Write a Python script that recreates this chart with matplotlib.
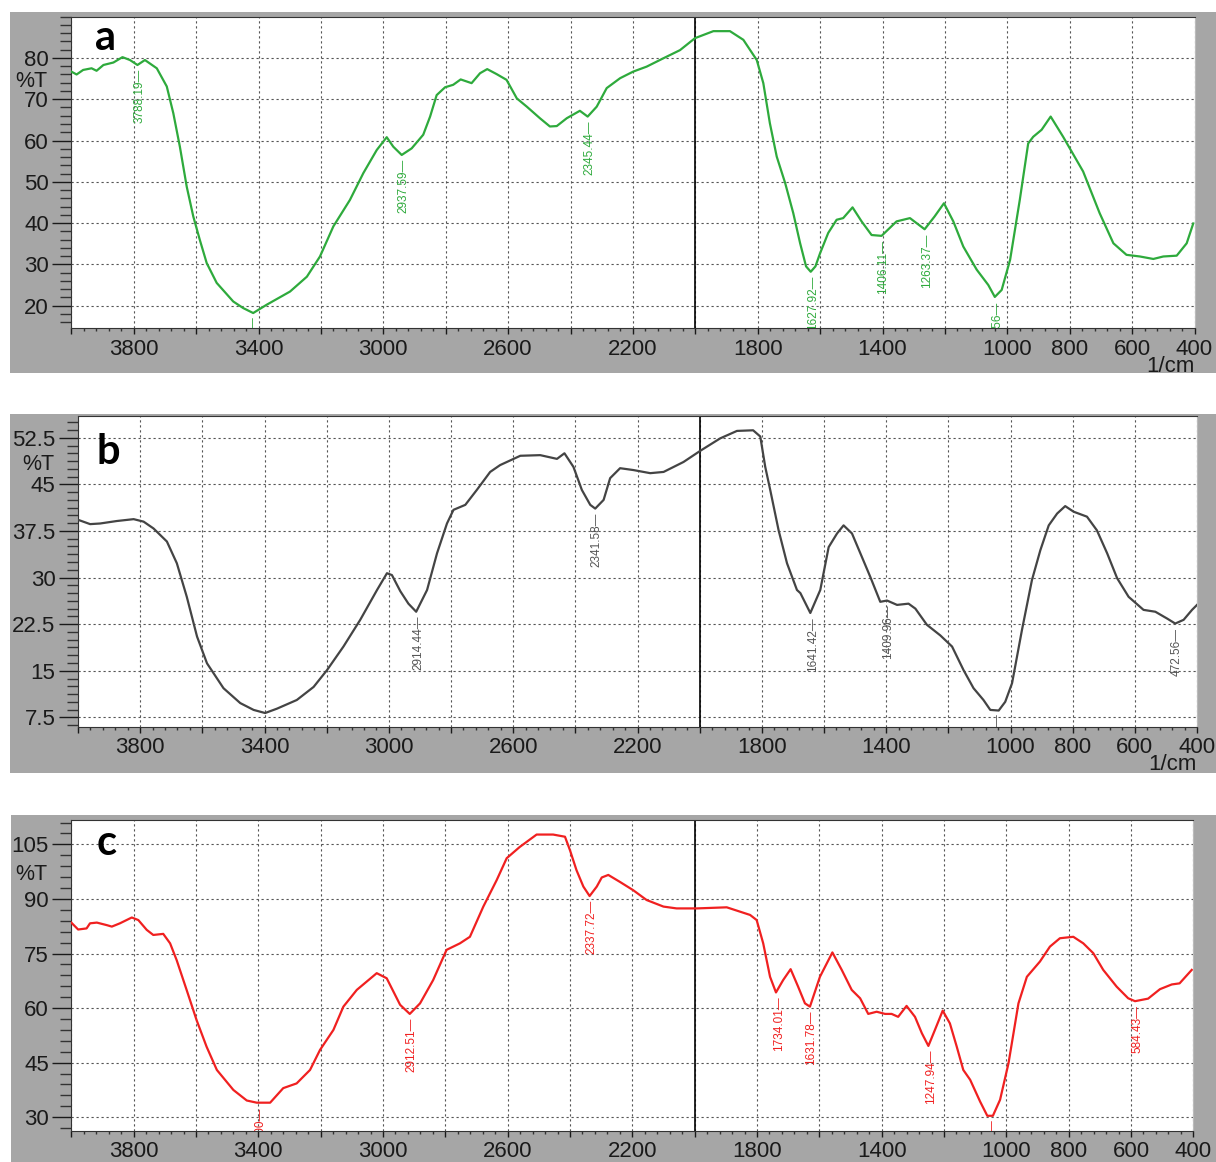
## FTIR spectra a, b, c (Shimadzu style plots)
import matplotlib
matplotlib.use('Agg')
import matplotlib.pyplot as plt
from matplotlib.patches import Rectangle
from matplotlib.ticker import MultipleLocator
from matplotlib.transforms import offset_copy

plt.rcParams['font.family'] = ['Liberation Sans', 'DejaVu Sans']

# spectrum a (green)
wn_a = [4000, 3983, 3962, 3935, 3919, 3897, 3865, 3836, 3812, 3788, 3764, 3726, 3694, 3673, 3652,
        3630, 3609, 3588, 3566, 3534, 3481, 3449, 3417, 3374, 3299, 3245, 3203, 3160, 3107, 3064,
        3021, 2989, 2968, 2941, 2909, 2872, 2850, 2829, 2802, 2776, 2752, 2717, 2690, 2667, 2637,
        2605, 2572, 2540, 2498, 2466, 2444, 2412, 2370, 2345, 2316, 2284, 2241, 2199, 2156, 2103,
        2049, 2001, 1942, 1889, 1846, 1803, 1782, 1761, 1739, 1712, 1686, 1664, 1645, 1630, 1615,
        1600, 1574, 1547, 1526, 1496, 1467, 1435, 1403, 1355, 1312, 1265, 1233, 1203, 1173, 1141,
        1098, 1061, 1040, 1018, 991, 960, 933, 917, 890, 861, 821, 757, 704, 660, 618,
        575, 532, 500, 457, 425, 404]
t_a = [76.7, 76.0, 77.1, 77.5, 76.9, 78.3, 78.9, 80.2, 79.5, 78.3, 79.5, 77.5, 73.1, 66.6, 58.5,
       48.8, 41.6, 35.9, 30.3, 25.5, 21.0, 19.4, 18.2, 20.2, 23.4, 27.0, 31.9, 39.2, 45.6, 52.1,
       57.7, 60.8, 58.5, 56.5, 58.1, 61.4, 65.8, 71.0, 72.9, 73.5, 74.8, 73.9, 76.3, 77.3, 76.1,
       74.7, 70.2, 68.2, 65.4, 63.4, 63.5, 65.4, 67.2, 65.8, 68.2, 72.7, 75.1, 76.7, 77.9, 79.9,
       81.9, 84.8, 86.5, 86.5, 84.4, 79.5, 73.9, 64.2, 56.1, 49.7, 42.4, 35.1, 29.5, 28.2, 29.5,
       32.7, 37.6, 40.8, 41.2, 43.8, 40.4, 37.1, 36.9, 40.4, 41.2, 38.5, 41.6, 44.8, 40.4, 34.3,
       28.7, 25.0, 22.1, 23.8, 31.1, 45.6, 59.3, 60.9, 62.6, 65.8, 60.9, 52.5, 42.4, 35.1, 32.3,
       31.9, 31.3, 31.9, 32.1, 35.1, 39.9]
# peak labels (the ones running off the bottom are cut as in the original print)
pk_wn_a = [3788, 3420, 2941, 2345, 1628, 1406, 1264, 1040]
pk_t_a = [78.3, 18.2, 56.5, 65.8, 28.3, 36.9, 38.5, 22.1]
pk_txt_a = ['3788.19', '', '2937.59', '2345.44', '1627.92', '1406.11', '1263.37', '.56']

# spectrum b (grey)
wn_b = [4000, 3961, 3929, 3875, 3821, 3789, 3757, 3714, 3682, 3650, 3617, 3585, 3532, 3478, 3435,
        3398, 3360, 3296, 3242, 3199, 3146, 3092, 3038, 3006, 2990, 2963, 2937, 2912, 2877, 2845,
        2813, 2792, 2754, 2717, 2674, 2642, 2577, 2513, 2459, 2435, 2406, 2379, 2352, 2336, 2309,
        2288, 2256, 2213, 2159, 2116, 2052, 1998, 1934, 1880, 1828, 1805, 1789, 1773, 1746, 1719,
        1687, 1676, 1644, 1612, 1585, 1558, 1537, 1510, 1483, 1451, 1419, 1397, 1365, 1328, 1306,
        1269, 1226, 1188, 1151, 1119, 1087, 1065, 1038, 1017, 995, 963, 931, 904, 877, 850,
        824, 797, 754, 722, 689, 657, 620, 572, 534, 496, 470, 443, 416, 400]
t_b = [39.3, 38.6, 38.7, 39.1, 39.4, 39.0, 37.9, 35.8, 32.3, 26.9, 20.5, 16.2, 12.2, 9.8, 8.7,
       8.2, 8.9, 10.3, 12.4, 15.1, 18.9, 23.2, 28.0, 30.7, 30.4, 27.8, 25.8, 24.5, 28.0, 33.9,
       38.7, 40.9, 41.7, 44.1, 47.0, 48.1, 49.6, 49.7, 49.1, 50.0, 47.8, 44.1, 41.7, 41.1, 42.5,
       46.0, 47.6, 47.3, 46.8, 47.0, 48.6, 50.4, 52.4, 53.6, 53.7, 52.7, 47.8, 44.1, 37.6, 32.3,
       28.0, 27.5, 24.3, 28.0, 34.9, 37.1, 38.4, 37.1, 33.9, 30.1, 26.1, 26.3, 25.6, 25.8, 25.0,
       22.4, 20.7, 18.9, 15.1, 12.2, 10.3, 8.7, 8.6, 10.0, 13.0, 21.6, 29.6, 34.4, 38.4, 40.3,
       41.5, 40.6, 39.8, 37.6, 33.9, 29.9, 26.9, 24.8, 24.5, 23.4, 22.6, 23.2, 24.8, 25.6]
pk_wn_b = [2912, 2338, 1643, 1400, 1045, 472]
pk_t_b = [24.5, 41.1, 24.3, 26.3, 8.6, 22.6]
pk_txt_b = ['2914.44', '2341.58', '1641.42', '1409.96', '', '472.56']

# spectrum c (red)
wn_c = [4000, 3978, 3951, 3940, 3918, 3886, 3870, 3844, 3806, 3785, 3758, 3737, 3705, 3683, 3662,
        3630, 3598, 3566, 3533, 3480, 3437, 3405, 3362, 3320, 3277, 3234, 3202, 3159, 3127, 3084,
        3052, 3020, 2988, 2945, 2914, 2881, 2839, 2796, 2753, 2721, 2678, 2635, 2603, 2561, 2507,
        2454, 2416, 2400, 2379, 2357, 2337, 2314, 2298, 2277, 2240, 2197, 2154, 2100, 2058, 1993,
        1897, 1822, 1801, 1780, 1758, 1739, 1716, 1692, 1668, 1646, 1630, 1598, 1558, 1528, 1496,
        1469, 1443, 1416, 1389, 1368, 1347, 1320, 1293, 1271, 1250, 1229, 1204, 1181, 1159, 1138,
        1116, 1084, 1061, 1043, 1020, 993, 961, 934, 892, 860, 828, 785, 753, 721, 689,
        646, 609, 587, 545, 507, 469, 444, 405]
t_c = [83.5, 81.6, 81.9, 83.3, 83.5, 82.8, 82.4, 83.3, 84.9, 84.2, 81.5, 80.1, 80.4, 77.8, 73.2,
       65.0, 56.7, 49.4, 43.0, 37.5, 34.6, 34.0, 34.0, 38.0, 39.3, 43.0, 48.5, 54.0, 60.4, 65.0,
       67.3, 69.6, 68.2, 60.9, 58.4, 61.3, 67.7, 76.0, 77.8, 79.6, 87.9, 95.2, 101.2, 104.3, 107.7,
       107.7, 107.1, 103.4, 97.9, 93.4, 90.8, 93.4, 95.9, 96.6, 94.7, 92.4, 89.7, 87.9, 87.4, 87.4,
       87.7, 85.6, 84.2, 77.8, 68.6, 64.3, 67.7, 70.7, 65.9, 61.3, 60.4, 68.6, 75.3, 70.5, 65.0,
       62.7, 58.4, 59.0, 58.4, 58.4, 57.6, 60.6, 57.6, 53.1, 49.6, 54.0, 59.3, 55.8, 49.4, 43.0,
       40.3, 34.3, 30.4, 30.4, 34.8, 44.8, 61.3, 68.6, 72.8, 76.9, 79.2, 79.6, 77.8, 75.1, 70.5,
       65.9, 62.7, 61.9, 62.6, 65.2, 66.5, 66.8, 70.5]
pk_wn_c = [3402, 2915, 2337, 1736, 1632, 1248, 1049, 585]
pk_t_c = [34.0, 58.4, 90.8, 64.3, 60.4, 49.6, 30.4, 61.9]
pk_txt_c = ['.00', '2912.51', '2337.72', '1734.01', '1631.78', '1247.94', '', '584.43']

# x tick labels (grid every 200, labels only on some)
x_grid = list(range(400, 4001, 200))
x_labeled = [3800, 3400, 3000, 2600, 2200, 1800, 1400, 1000, 800, 600, 400]

yticks_a = [20, 30, 40, 50, 60, 70, 80]
ylab_a = ['20', '30', '40', '50', '60', '70', '80']
yticks_b = [7.5, 15, 22.5, 30, 37.5, 45, 52.5]
ylab_b = ['7.5', '15', '22.5', '30', '37.5', '45', '52.5']
yticks_c = [30, 45, 60, 75, 90, 105]
ylab_c = ['30', '45', '60', '75', '90', '105']

W, H = 1216, 1162
fig = plt.figure(figsize=(W / 100, H / 100), dpi=100)

# grey frames behind each plot
for l, t, r, b in [(10, 12, 1216, 373), (10, 414, 1216, 773), (11, 815, 1216, 1162)]:
    fig.patches.append(Rectangle((l / W, 1 - b / H), (r - l) / W, (b - t) / H,
                                 transform=fig.transFigure, facecolor='#a6a6a6',
                                 edgecolor='none', zorder=-10))


def panel(box, wn, t, color, ylim, yticks, ylabels, yminor,
          pk_wn, pk_t, pk_txt, pk_color, letter, letter_xy, pct_y, show_cm):
    l, top, r, b = box
    ax = fig.add_axes([l / W, 1 - b / H, (r - l) / W, (b - top) / H])
    ax.plot(wn, t, color=color, lw=1.6, zorder=3)
    ax.axvline(2000, color='black', lw=1.2, zorder=2)
    ax.set_xlim(4000, 400)
    ax.set_ylim(*ylim)

    ax.set_xticks(x_grid, labels=[str(v) if v in x_labeled else '' for v in x_grid])
    ax.xaxis.set_minor_locator(MultipleLocator(40))
    ax.set_yticks(yticks, labels=ylabels)
    ax.yaxis.set_minor_locator(MultipleLocator(yminor))

    ax.tick_params(axis='y', which='major', length=13.7, width=1, pad=2.5, labelsize=16, colors='#1a1a1a')
    ax.tick_params(axis='y', which='minor', length=8, width=1, color='#333')
    ax.tick_params(axis='x', which='major', length=4.5, width=1, pad=3, labelsize=16, colors='#1a1a1a')
    ax.tick_params(axis='x', which='minor', length=2.5, width=1, color='#333')
    for s in ax.spines.values():
        s.set_color('#333')
    ax.spines['right'].set_color('#bbbbbb')

    ax.grid(True, which='major', color='#555555', linestyle=(0, (2, 2.5)), lw=0.8)
    ax.set_axisbelow(True)

    # peak labels, rotated, hanging under the point
    tr = offset_copy(ax.transData, fig=fig, x=2, y=-4, units='dots')
    for w, v, s in zip(pk_wn, pk_t, pk_txt):
        ax.text(w, v, s + '\u2014', transform=tr, rotation=90, ha='center', va='top',
                fontsize=8.5, color=pk_color, clip_on=True)

    ax.annotate('%T', xy=(0, pct_y), xycoords=ax.get_yaxis_transform(),
                xytext=(-24, -3), textcoords='offset pixels', ha='right', va='center',
                fontsize=15.5, color='#1a1a1a', annotation_clip=False)
    if show_cm:
        ax.annotate('1/cm', xy=(1, 0), xycoords='axes fraction', xytext=(0, -38),
                    textcoords='offset pixels', ha='right', va='center',
                    fontsize=16, color='#1a1a1a', annotation_clip=False)

    fig.text(letter_xy[0] / W, 1 - letter_xy[1] / H, letter, fontsize=30, fontweight='bold',
             family=['Lato', 'DejaVu Sans'], ha='center', va='center')
    return ax


panel((71.3, 16.7, 1194.5, 328.3), wn_a, t_a, '#2eaa3c', (14.5, 90), yticks_a, ylab_a, 2,
      pk_wn_a, pk_t_a, pk_txt_a, '#2eaa3c', 'a', (105, 38), 75, True)
panel((78, 416, 1197, 726.7), wn_b, t_b, '#444444', (6, 56), yticks_b, ylab_b, 1.25,
      pk_wn_b, pk_t_b, pk_txt_b, '#555555', 'b', (108, 452), 48.75, True)
panel((71.3, 820, 1193.3, 1130.7), wn_c, t_c, '#f02020', (26.3, 111.7), yticks_c, ylab_c, 3,
      pk_wn_c, pk_t_c, pk_txt_c, '#f02020', 'c', (107, 843), 97.5, False)

fig.savefig('out.png', dpi=100)
